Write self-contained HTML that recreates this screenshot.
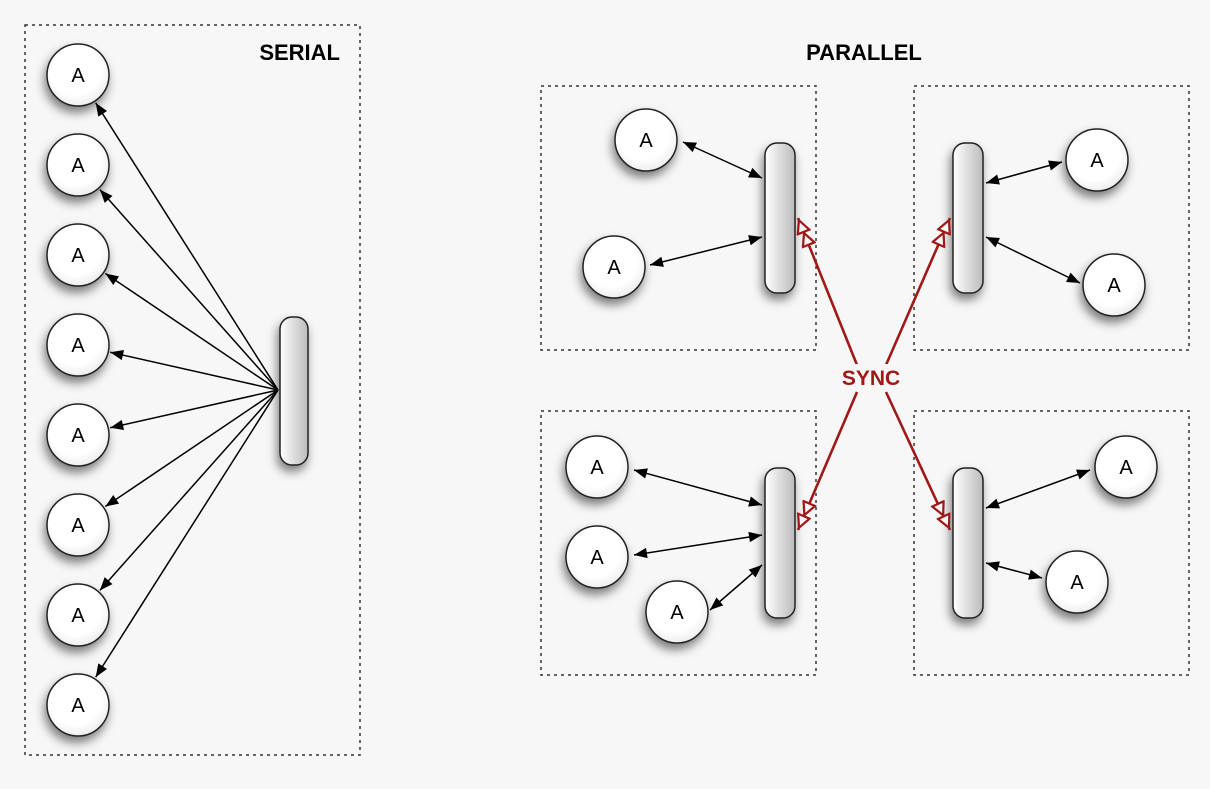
<!DOCTYPE html>
<html><head><meta charset="utf-8"><style>
body{margin:0;background:#f7f7f7}
svg{display:block}
text{font-family:"Liberation Sans",sans-serif}
</style></head><body>
<svg width="1210" height="789" viewBox="0 0 1210 789">
<defs>
<marker id="ah" viewBox="0 0 10 10" refX="10" refY="5" markerWidth="15" markerHeight="13" markerUnits="userSpaceOnUse" orient="auto-start-reverse"><path d="M0,1 L10,5 L0,9 z" fill="#000"/></marker>
<marker id="rh" viewBox="0 0 24 12" refX="24" refY="6" markerWidth="30" markerHeight="15" markerUnits="userSpaceOnUse" orient="auto"><path d="M1,1 L11,6 L1,11 z M12,1 L22,6 L12,11 z" fill="#f7f7f7" stroke="#a01818" stroke-width="1.8"/></marker>
<linearGradient id="bg" x1="0" x2="1"><stop offset="0" stop-color="#fff"/><stop offset="1" stop-color="#bbb"/></linearGradient>
<radialGradient id="cg" cx="0.45" cy="0.4" r="0.6"><stop offset="0.7" stop-color="#fff"/><stop offset="1" stop-color="#eee"/></radialGradient>
<filter id="sh" x="-50%" y="-50%" width="200%" height="200%"><feDropShadow dx="-2" dy="6" stdDeviation="5" flood-opacity="0.5"/></filter>
</defs>
<g fill="none" stroke="#333" stroke-width="1.5" stroke-dasharray="3,4">
<rect x="25" y="25" width="335" height="730"/>
<rect x="541" y="86" width="275" height="264"/>
<rect x="914" y="86" width="275" height="264"/>
<rect x="541" y="411" width="275" height="264"/>
<rect x="914" y="411" width="275" height="264"/>
</g>
<text x="340" y="60" text-anchor="end" font-size="22" font-weight="bold">SERIAL</text>
<text x="864" y="60" text-anchor="middle" font-size="22" font-weight="bold">PARALLEL</text>
<g id="bars" fill="url(#bg)" stroke="#222" stroke-width="1.5" filter="url(#sh)">
<rect x="280" y="317" width="28" height="148" rx="12"/>
<rect x="765" y="143" width="30" height="150" rx="12"/>
<rect x="953" y="143" width="30" height="150" rx="12"/>
<rect x="765" y="468" width="30" height="150" rx="12"/>
<rect x="953" y="468" width="30" height="150" rx="12"/>
</g>
<g id="circles"></g>
<g id="arrows" stroke="#000" stroke-width="1.5"></g>
<g stroke="#a01818" stroke-width="2.6" fill="none">
<line x1="857" y1="365" x2="798" y2="218" marker-end="url(#rh)"/>
<line x1="886" y1="365" x2="950" y2="218" marker-end="url(#rh)"/>
<line x1="857" y1="392" x2="798" y2="530" marker-end="url(#rh)"/>
<line x1="886" y1="392" x2="950" y2="530" marker-end="url(#rh)"/>
</g>
<rect x="832" y="364" width="78" height="26" fill="#f7f7f7"/>
<text x="871" y="385" text-anchor="middle" font-size="21" font-weight="bold" fill="#a01818">SYNC</text>
</svg>
<script>
const NS="http://www.w3.org/2000/svg";
const nodes=[[78,75],[78,165],[78,255],[78,345],[78,435],[78,525],[78,615],[78,705],
[646,140],[614,267],[1097,160],[1114,285],[597,467],[597,557],[677,612],[1126,467],[1077,582]];
const cg=document.getElementById('circles');
nodes.forEach((n,i)=>{
 const g=document.createElementNS(NS,'g');
 
 
 const c=document.createElementNS(NS,'circle');
 c.setAttribute('cx',n[0]);c.setAttribute('cy',n[1]);c.setAttribute('r',31);
 c.setAttribute('fill','url(#cg)');c.setAttribute('stroke','#222');c.setAttribute('stroke-width','1.5');
 c.setAttribute('filter','url(#sh)');
 const t=document.createElementNS(NS,'text');
 t.setAttribute('x',n[0]);t.setAttribute('y',n[1]+7);t.setAttribute('text-anchor','middle');
 t.setAttribute('font-size','20');t.textContent='A';
 g.appendChild(c);g.appendChild(t);cg.appendChild(g);
});
const ag=document.getElementById('arrows');
function arrow(x1,y1,x2,y2,both){
 const l=document.createElementNS(NS,'line');
 l.setAttribute('x1',x1);l.setAttribute('y1',y1);l.setAttribute('x2',x2);l.setAttribute('y2',y2);
 l.setAttribute('marker-end','url(#ah)');
 if(both)l.setAttribute('marker-start','url(#ah)');
 
 
 ag.appendChild(l);
}
for(let i=0;i<8;i++){
 const cx=78,cy=75+90*i,dx=cx-278,dy=cy-390,d=Math.hypot(dx,dy);
 arrow(278,390,cx-dx/d*33,cy-dy/d*33,false);
}
[[683,142,762,178],[650,265,762,237],[986,183,1062,162],[986,237,1080,283],
[634,470,762,505],[634,555,762,535],[710,610,762,565],[986,508,1090,470],[986,563,1042,578]]
.forEach(a=>arrow(a[0],a[1],a[2],a[3],true));
</script>
</body></html>
